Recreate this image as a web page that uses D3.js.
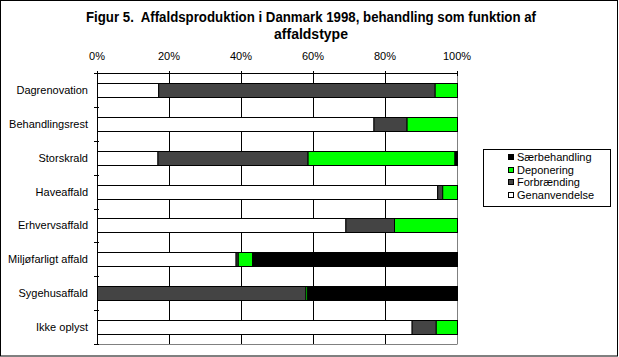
<!DOCTYPE html>
<html><head><meta charset="utf-8">
<script src="https://cdn.jsdelivr.net/npm/d3@7"></script>
<style>body{margin:0;background:#fff}svg{display:block}text{font-family:"Liberation Sans",Arial,sans-serif}</style>
</head><body><svg id="c" width="619" height="357"></svg>
<script>
const categories = ["Dagrenovation","Behandlingsrest","Storskrald","Haveaffald","Erhvervsaffald","Miljøfarligt affald","Sygehusaffald","Ikke oplyst"];
const genanvendelse = [17.0, 76.8, 16.8, 94.5, 69.0, 38.5, 0, 87.4];
const forbraending  = [76.8, 9.2, 41.7, 1.4, 13.5, 0.6, 57.9, 6.7];
const deponering    = [6.2, 14.0, 40.8, 4.1, 17.5, 4.0, 0.5, 5.9];
const saerbehandling= [0, 0, 0.7, 0, 0, 56.9, 41.6, 0];
const seriesNames = ["Genanvendelse","Forbrænding","Deponering","Særbehandling"];
const seriesColors = ["#ffffff","#444444","#00ff00","#000000"];
const tickValues = [0,20,40,60,80,100];
const titleLines = ["Figur 5.  Affaldsproduktion i Danmark 1998, behandling som funktion af","affaldstype"];

const rows = categories.map((c,i)=>({cat:c, "Genanvendelse":genanvendelse[i], "Forbrænding":forbraending[i], "Deponering":deponering[i], "Særbehandling":saerbehandling[i]}));
const stack = d3.stack().keys(seriesNames)(rows);

const svg = d3.select("#c");
svg.append("rect").attr("x",0.5).attr("y",0.5).attr("width",617).attr("height",355.5).attr("fill","#fff").attr("stroke","#000");

const L=97, R=457, T=73, B=344;
const x = d3.scaleLinear().domain([0,100]).range([L,R]);
const y = d3.scaleBand().domain(categories).range([T,B]).paddingInner(0.587).paddingOuter(0.2935);
const yb = d3.scaleLinear().domain([0,categories.length]).range([T,B]);

// title
svg.append("text").attr("x",311).attr("y",22).attr("text-anchor","middle")
  .style("font-family","'Liberation Sans Narrow','Arial Narrow',sans-serif").style("font-weight","bold").style("font-size","14px")
  .style("white-space","pre").attr("xml:space","preserve")
  .attr("textLength",450).attr("lengthAdjust","spacingAndGlyphs").text(titleLines[0]);
svg.append("text").attr("x",311).attr("y",39).attr("text-anchor","middle")
  .style("font-family","'Liberation Sans Narrow','Arial Narrow',sans-serif").style("font-weight","bold").style("font-size","14px")
  .text(titleLines[1]);

// grid
const g = svg.append("g");
g.selectAll("line.grid").data(tickValues.filter(v=>v>0)).join("line")
  .attr("x1",d=>Math.round(x(d))+0.5).attr("x2",d=>Math.round(x(d))+0.5).attr("y1",T).attr("y2",B)
  .attr("stroke",d=>d===100?"#808080":"#000");
g.append("line").attr("x1",L).attr("x2",R+0.5).attr("y1",B+0.5).attr("y2",B+0.5).attr("stroke","#808080");

// bars
const bars = svg.append("g");
stack.forEach((s,si)=>{
  bars.selectAll(null).data(s.filter(d=>d[1]-d[0]>0)).join("rect")
    .attr("x",d=>x(d[0])+0.5).attr("width",d=>x(d[1])-x(d[0]))
    .attr("y",d=>Math.round(y(d.data.cat))+0.5).attr("height",Math.round(y.bandwidth()))
    .attr("fill",seriesColors[si]).attr("stroke","#000").attr("stroke-width",1);
});

// top axis
const ax = svg.append("g");
ax.append("line").attr("x1",L).attr("x2",R+0.5).attr("y1",T+0.5).attr("y2",T+0.5).attr("stroke","#000");
ax.selectAll("line.t").data(tickValues).join("line")
  .attr("x1",d=>Math.round(x(d))+0.5).attr("x2",d=>Math.round(x(d))+0.5).attr("y1",T-2).attr("y2",T+3).attr("stroke","#000");
ax.selectAll("text").data(tickValues).join("text")
  .attr("x",d=>x(d)).attr("y",60).attr("text-anchor","middle").style("font-size","11px").text(d=>d+"%");

// left axis
svg.append("line").attr("x1",L+0.5).attr("x2",L+0.5).attr("y1",T).attr("y2",B+1).attr("stroke","#000");
svg.selectAll("line.lt").data(d3.range(categories.length+1)).join("line")
  .attr("x1",L-3).attr("x2",L+2).attr("y1",d=>Math.round(yb(d))+0.5).attr("y2",d=>Math.round(yb(d))+0.5).attr("stroke","#000");
svg.selectAll("text.cat").data(categories).join("text").attr("class","cat")
  .attr("x",88).attr("y",d=>y(d)+y.bandwidth()/2+4).attr("text-anchor","end").style("font-size","11px").text(d=>d);

// legend
const lg = svg.append("g");
lg.append("rect").attr("x",483.5).attr("y",149.5).attr("width",127).attr("height",57).attr("fill","#fff").attr("stroke","#000");
const legOrder = [3,2,1,0];
legOrder.forEach((si,k)=>{
  const cy = 157 + k*12.7;
  lg.append("rect").attr("x",508.5).attr("y",Math.round(cy-3)+0.5).attr("width",5).attr("height",5).attr("fill",seriesColors[si]).attr("stroke","#000");
  lg.append("text").attr("x",517).attr("y",cy+4).style("font-size","11px").text(seriesNames[si]);
});
</script></body></html>
